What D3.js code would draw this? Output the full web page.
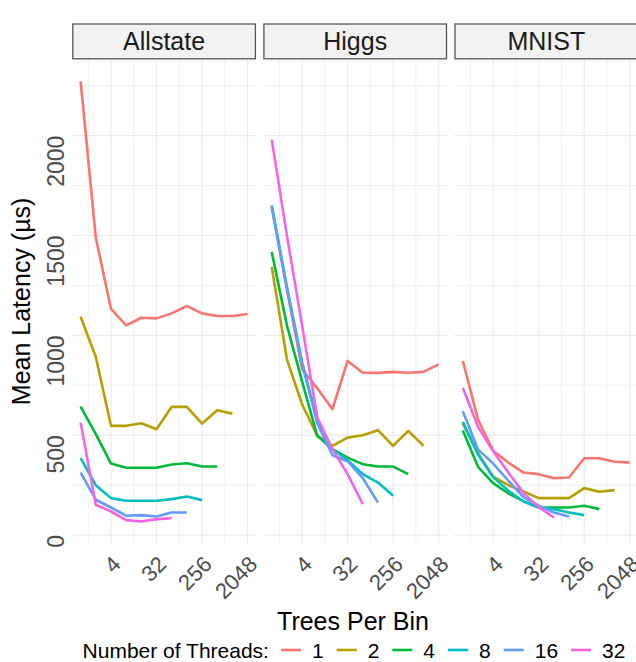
<!DOCTYPE html>
<html>
<head>
<meta charset="utf-8">
<script src="https://cdn.jsdelivr.net/npm/d3@7"></script>
<style>
  html, body { margin: 0; padding: 0; background: #fff; }
  svg { display: block; font-family: "Liberation Sans", Arial, sans-serif; }
</style>
</head>
<body>
<svg id="chart" width="636" height="662"></svg>
<script>
// ---------------- DATA ----------------
const treesPerBin = [1, 2, 4, 8, 16, 32, 64, 128, 256, 512, 1024, 2048];
const datasets = ["Allstate", "Higgs", "MNIST"];
const threadCounts = [1, 2, 4, 8, 16, 32];
const threadColors = ["#F8766D", "#B79F00", "#00BA38", "#00BFC4", "#619CFF", "#F564E3"];

// mean latency (µs), one row per thread count, values follow treesPerBin
const allstateLatency = [
  [2272, 1488, 1133, 1050, 1088, 1085, 1110, 1147, 1110, 1097, 1097, 1107],
  [1093, 892, 547, 547, 560, 530, 642, 642, 558, 625, 608],
  [643, 505, 358, 337, 337, 337, 353, 360, 343, 343],
  [385, 250, 185, 172, 172, 172, 180, 193, 175],
  [313, 177, 138, 97, 100, 93, 113, 113],
  [563, 152, 118, 75, 68, 80, 85]
];
const higgsLatency = [
  [1640, 1230, 830, 735, 630, 872, 813, 812, 817, 813, 817, 855],
  [1343, 880, 655, 497, 447, 488, 500, 525, 447, 522, 447],
  [1417, 1050, 770, 497, 430, 388, 355, 343, 343, 305],
  [1650, 1240, 865, 575, 430, 375, 305, 263, 197],
  [1647, 1240, 858, 560, 400, 370, 285, 163],
  [1980, 1500, 1050, 590, 430, 305, 155]
];
const mnistLatency = [
  [872, 578, 422, 363, 313, 305, 285, 288, 385, 385, 367, 363],
  [558, 410, 292, 250, 218, 185, 185, 185, 235, 217, 225],
  [523, 342, 260, 208, 170, 138, 138, 138, 147, 130],
  [567, 403, 290, 222, 168, 138, 130, 113, 100],
  [620, 428, 358, 272, 190, 147, 113, 93],
  [738, 542, 420, 313, 210, 140, 88]
];
const xTickValues = [4, 32, 256, 2048];
const yTickValues = [0, 500, 1000, 1500, 2000];
const xTitle = "Trees Per Bin";
const yTitle = "Mean Latency (µs)";
const legendTitle = "Number of Threads:";

// ---------------- LAYOUT ----------------
const latencyByDataset = [allstateLatency, higgsLatency, mnistLatency];
const svg = d3.select("#chart");
const panelLeft = 72.3, panelW = 183.6, panelGap = 7.5;
const panelTop = 59.3, panelBottom = 543.5;
const stripTop = 24;

// y scale (shared), 5% expansion of data range
const allVals = latencyByDataset.flat(2);
const [yMin, yMax] = d3.extent(allVals);
const yPad = (yMax - yMin) * 0.05;
const y = d3.scaleLinear().domain([yMin - yPad, yMax + yPad]).range([panelBottom, panelTop]);

// x scale (log2), 5% expansion in log space
const lx0 = Math.log2(d3.min(treesPerBin)), lx1 = Math.log2(d3.max(treesPerBin));
const xPad = (lx1 - lx0) * 0.05;
const xBase = d3.scaleLog().base(2).domain([Math.pow(2, lx0 - xPad), Math.pow(2, lx1 + xPad)]).range([0, panelW]);

const xMinor = [];
const xl = xTickValues.map(v => Math.log2(v));
const stepX = xl[1] - xl[0];
[xl[0] - stepX, ...xl].forEach(l => {
  const m = Math.pow(2, l + stepX / 2);
  if (m >= xBase.domain()[0] && m <= xBase.domain()[1]) xMinor.push(m);
});
const yMinor = [];
const stepY = yTickValues[1] - yTickValues[0];
for (let v = yTickValues[0] - stepY / 2; v <= y.domain()[1]; v += stepY) {
  if (v >= y.domain()[0]) yMinor.push(v);
}

datasets.forEach((name, i) => {
  const x0 = panelLeft + i * (panelW + panelGap);
  const g = svg.append("g").attr("transform", `translate(${x0},0)`);

  // gridlines
  g.selectAll(".ymin").data(yMinor).join("line")
    .attr("x1", 0).attr("x2", panelW).attr("y1", d => y(d)).attr("y2", d => y(d))
    .attr("stroke", "#f0f0f0").attr("stroke-width", 1);
  g.selectAll(".xmin").data(xMinor).join("line")
    .attr("x1", d => xBase(d)).attr("x2", d => xBase(d)).attr("y1", panelTop).attr("y2", panelBottom)
    .attr("stroke", "#f0f0f0").attr("stroke-width", 1);
  g.selectAll(".ymaj").data(yTickValues).join("line")
    .attr("x1", 0).attr("x2", panelW).attr("y1", d => y(d)).attr("y2", d => y(d))
    .attr("stroke", "#ebebeb").attr("stroke-width", 1.2);
  g.selectAll(".xmaj").data(xTickValues).join("line")
    .attr("x1", d => xBase(d)).attr("x2", d => xBase(d)).attr("y1", panelTop).attr("y2", panelBottom)
    .attr("stroke", "#ebebeb").attr("stroke-width", 1.2);

  // strip
  g.append("rect").attr("x", 0.5).attr("y", stripTop).attr("width", panelW - 1).attr("height", panelTop - stripTop - 0.5)
    .attr("fill", "#f2f2f2").attr("stroke", "#555").attr("stroke-width", 1.3);
  g.append("text").attr("x", panelW / 2).attr("y", 50).attr("text-anchor", "middle")
    .attr("font-size", 25).attr("fill", "#1a1a1a").text(name);

  // lines
  const line = d3.line().x((d, j) => xBase(treesPerBin[j])).y(d => y(d));
  latencyByDataset[i].forEach((vals, k) => {
    g.append("path").attr("d", line(vals)).attr("fill", "none")
      .attr("stroke", threadColors[k]).attr("stroke-width", 2.6)
      .attr("stroke-linejoin", "round").attr("stroke-linecap", "butt");
  });

  // x tick labels
  xTickValues.forEach(v => {
    g.append("text")
      .attr("transform", `translate(${xBase(v)},${panelBottom + 11}) rotate(-45)`)
      .attr("text-anchor", "end").attr("dy", "0.72em")
      .attr("font-size", 22).attr("fill", "#4d4d4d").text(v);
  });

  // y tick labels on first panel
  if (i === 0) {
    yTickValues.forEach(v => {
      svg.append("text")
        .attr("transform", `translate(63.5,${y(v)}) rotate(-90)`)
        .attr("text-anchor", "end")
        .attr("font-size", 23).attr("fill", "#4d4d4d").text(v);
    });
  }
});

// axis titles
svg.append("text").attr("x", 353).attr("y", 630).attr("text-anchor", "middle")
  .attr("font-size", 25).attr("fill", "#000").text(xTitle);
svg.append("text").attr("transform", `translate(30,${(panelTop + panelBottom) / 2}) rotate(-90)`)
  .attr("text-anchor", "middle").attr("font-size", 25).attr("fill", "#000").text(yTitle);

// legend
const lg = svg.append("g");
const legendY = 658;
const tTitle = lg.append("text").attr("x", 0).attr("y", legendY).attr("font-size", 21).attr("fill", "#000").text(legendTitle);
let cx = tTitle.node().getComputedTextLength() + 12;
threadCounts.forEach((t, k) => {
  lg.append("line").attr("x1", cx).attr("x2", cx + 20).attr("y1", legendY - 8).attr("y2", legendY - 8)
    .attr("stroke", threadColors[k]).attr("stroke-width", 2.6);
  cx += 20 + 11;
  const lt = lg.append("text").attr("x", cx).attr("y", legendY).attr("font-size", 21).attr("fill", "#000").text(t);
  cx += lt.node().getComputedTextLength() + 13;
});
const legendW = cx - 13;
lg.attr("transform", `translate(${354 - legendW / 2},0)`);
</script>
</body>
</html>
